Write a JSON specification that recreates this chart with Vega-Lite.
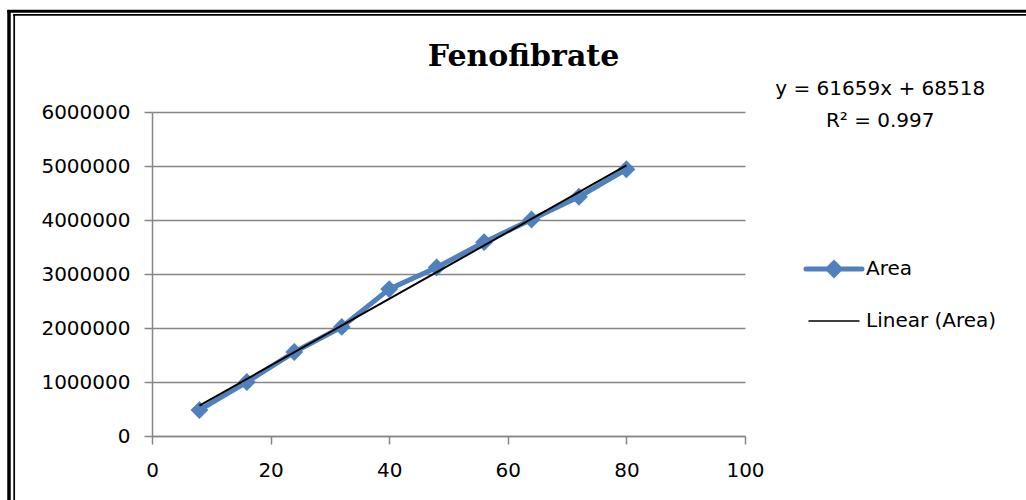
{
  "$schema": "https://vega.github.io/schema/vega-lite/v6.json",
  "autosize": "none",
  "width": 593,
  "height": 324,
  "padding": {"left": 152, "top": 112, "right": 281, "bottom": 64},
  "background": "white",
  "title": {"text": "Fenofibrate", "font": "DejaVu Serif", "fontSize": 30, "fontWeight": "bold", "color": "black", "anchor": "middle", "dx": 75, "offset": -88, "baseline": "alphabetic"},
  "data": {"values": [
    {"conc": 8, "area": 480000},
    {"conc": 16, "area": 1000000},
    {"conc": 24, "area": 1555000},
    {"conc": 32, "area": 2020000},
    {"conc": 40, "area": 2720000},
    {"conc": 48, "area": 3120000},
    {"conc": 56, "area": 3590000},
    {"conc": 64, "area": 4010000},
    {"conc": 72, "area": 4430000},
    {"conc": 80, "area": 4940000}
  ]},
  "config": {
    "view": {"stroke": null},
    "axis": {"labelFont": "DejaVu Sans", "labelFontSize": 20, "labelColor": "black", "domainColor": "#868686", "tickColor": "#868686", "domainWidth": 1.5, "tickWidth": 1.5, "tickSize": 8, "labelFlush": false, "labelBound": false, "labelOverlap": false}
  },
  "layer": [
    {
      "mark": {"type": "line", "strokeWidth": 5, "strokeJoin": "round", "clip": false},
      "encoding": {
        "x": {"field": "conc", "type": "quantitative", "title": null, "scale": {"domain": [0, 100], "nice": false, "zero": false}, "axis": {"title": null, "values": [0, 20, 40, 60, 80, 100], "grid": false, "labelPadding": 16}},
        "y": {"field": "area", "type": "quantitative", "title": null, "scale": {"domain": [0, 6000000], "nice": false}, "axis": {"title": null, "values": [0, 1000000, 2000000, 3000000, 4000000, 5000000, 6000000], "format": "d", "grid": true, "gridColor": "#868686", "gridWidth": 1.5, "labelPadding": 14}},
        "color": {"datum": "Area", "type": "nominal", "scale": {"domain": ["Area", "Linear (Area)"], "range": ["#4f81bd", "#000000"]},
          "legend": {"title": null, "orient": "none", "legendX": 672, "legendY": 147, "padding": 0, "labelFont": "DejaVu Sans", "labelFontSize": 20, "labelColor": "black", "labelOffset": 22, "symbolSize": 400, "rowPadding": 26,
            "encode": {"symbols": {"update": {
              "shape": {"signal": "datum.label === 'Area' ? 'M-2.8,0H2.8M0,-0.6L0.6,0L0,0.6L-0.6,0Z' : 'M-2.55,0H2.55'"},
              "strokeWidth": {"signal": "datum.label === 'Area' ? 5 : 1.5"},
              "fill": {"signal": "datum.label === 'Area' ? '#4f81bd' : 'transparent'"},
              "stroke": {"signal": "datum.label === 'Area' ? '#4f81bd' : '#000000'"},
              "strokeCap": {"signal": "datum.label === 'Area' ? 'round' : 'butt'"},
              "opacity": {"value": 1}
            }}}
          }}
      }
    },
    {
      "mark": {"type": "point", "shape": "diamond", "filled": true, "size": 320, "opacity": 1, "clip": false},
      "encoding": {
        "x": {"field": "conc", "type": "quantitative", "title": null},
        "y": {"field": "area", "type": "quantitative", "title": null},
        "color": {"datum": "Area", "type": "nominal"}
      }
    },
    {
      "transform": [{"regression": "area", "on": "conc", "method": "linear", "extent": [8, 80]}],
      "mark": {"type": "line", "strokeWidth": 2, "clip": false},
      "encoding": {
        "x": {"field": "conc", "type": "quantitative", "title": null},
        "y": {"field": "area", "type": "quantitative", "title": null},
        "color": {"datum": "Linear (Area)", "type": "nominal"}
      }
    },
    {
      "data": {"values": [{}]},
      "mark": {"type": "text", "text": "y = 61659x + 68518", "font": "DejaVu Sans", "fontSize": 20, "color": "black", "align": "center", "baseline": "alphabetic"},
      "encoding": {"x": {"datum": 122.8, "type": "quantitative"}, "y": {"datum": 6314815, "type": "quantitative"}}
    },
    {
      "data": {"values": [{}]},
      "mark": {"type": "text", "text": "R² = 0.997", "font": "DejaVu Sans", "fontSize": 20, "color": "black", "align": "center", "baseline": "alphabetic"},
      "encoding": {"x": {"datum": 122.8, "type": "quantitative"}, "y": {"datum": 5722222, "type": "quantitative"}}
    },
    {
      "data": {"values": [{}]},
      "mark": {"type": "rule", "color": "black", "strokeWidth": 3.5},
      "encoding": {"x": {"datum": -24.115, "type": "quantitative"}, "y": {"datum": 7888889, "type": "quantitative"}, "y2": {"datum": -1185185}}
    },
    {
      "data": {"values": [{}]},
      "mark": {"type": "rule", "color": "black", "strokeWidth": 1.7},
      "encoding": {"x": {"datum": -23.238, "type": "quantitative"}, "y": {"datum": 7814815, "type": "quantitative"}, "y2": {"datum": -1185185}}
    },
    {
      "data": {"values": [{}]},
      "mark": {"type": "rule", "color": "black", "strokeWidth": 3},
      "encoding": {"y": {"datum": 7864815, "type": "quantitative"}, "x": {"datum": -24.4, "type": "quantitative"}, "x2": {"datum": 147.39}}
    },
    {
      "data": {"values": [{}]},
      "mark": {"type": "rule", "color": "black", "strokeWidth": 1.7},
      "encoding": {"y": {"datum": 7800000, "type": "quantitative"}, "x": {"datum": -23.39, "type": "quantitative"}, "x2": {"datum": 147.39}}
    }
  ]
}
